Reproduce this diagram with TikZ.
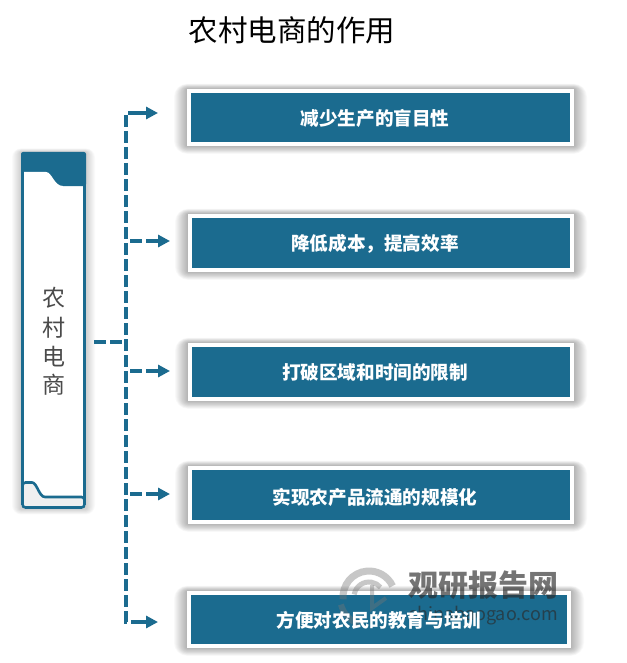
\documentclass[tikz,border=0pt]{standalone}
\usepackage{fontspec}
\setmainfont{Noto Sans CJK SC}
\usetikzlibrary{arrows.meta}
\definecolor{teal1}{HTML}{1B6B8F}
\definecolor{ink}{HTML}{4A4A4A}
\definecolor{wm}{HTML}{2A2A2A}
\tikzset{
  x=1pt,y=-1pt,
  itembox/.style={draw=white,line width=4pt,fill=teal1,inner sep=0pt},
  itemlabel/.style={text=white,font=\fontsize{18.6pt}{20pt}\selectfont\bfseries},
  dashline/.style={draw=teal1,line width=3.4pt,dash pattern=on 12pt off 4pt},
  branch/.style={dashline,-{Triangle[length=12pt,width=12pt]}},
  sideletter/.style={text=ink,font=\fontsize{23pt}{24pt}\selectfont},
  logoarc/.style={draw=wm!65,line width=7pt},
}
% shadow: args x0,y0,x1,y1 (px), spread, opacity
\newcommand{\softshadow}[6]{%
  \foreach \s in {1,...,#5}{%
    \fill[black,opacity=#6,rounded corners=\s pt] (#1-\s,#2-0.4*\s) rectangle (#3+\s,#4+0.6*\s);
  }%
}
\begin{document}
\begin{tikzpicture}
\useasboundingbox (0,0) rectangle (626,663);
\fill[white] (0,0) rectangle (626,663);

\node[font=\fontsize{29.5pt}{32pt}\selectfont,text=black,anchor=center] (title) at (292,30) {农村电商的作用};

% shadows
\softshadow{21}{152}{86}{509}{9}{0.018}
\softshadow{187}{89}{574}{146}{13}{0.025}
\softshadow{188}{214}{574}{272}{13}{0.025}
\softshadow{188}{343}{574}{401}{13}{0.025}
\softshadow{188}{466}{574}{524}{13}{0.025}
\softshadow{187}{591}{571}{648}{13}{0.025}

% scroll
\node[minimum width=65pt,minimum height=357pt,inner sep=0pt] (scroll) at (53.5,330.5) {};
\fill[white] (21,155) rectangle (86,506);
\fill[rounded corners=2pt,teal1] (21,186) -- (21,152) -- (86,152) -- (86,186) -- cycle;
\fill[white] (24,172) -- (46,172) .. controls (52,172) and (54,186) .. (63,186) -- (24,186) -- cycle;
\fill[white] (24,186) rectangle (63,190);
\fill[teal1] (21,175) rectangle (24,500);
\fill[teal1] (82.5,180) rectangle (85.5,500);
\filldraw[draw=teal1,fill=black!6,line width=2.6pt,rounded corners=3pt]
  (22.5,482.5) -- (29,482.5) .. controls (37,482.5) and (39,497) .. (48,497) -- (84.5,497)
  -- (84.5,507.5) -- (22.5,507.5) -- cycle;
\node[sideletter] (c1) at (54,298) {农};
\node[sideletter] (c2) at (54,328) {村};
\node[sideletter] (c3) at (54,357) {电};
\node[sideletter] (c4) at (54,385) {商};

% boxes
\node[itembox,minimum width=383pt,minimum height=53pt] (b1) at (380.5,117.5) {};
\node[itembox,minimum width=382pt,minimum height=54pt] (b2) at (381,243) {};
\node[itembox,minimum width=382pt,minimum height=54pt] (b3) at (381,372) {};
\node[itembox,minimum width=382pt,minimum height=54pt] (b4) at (381,495) {};
\node[itembox,minimum width=380pt,minimum height=53pt] (b5) at (379,619.5) {};

% connectors
\coordinate (j) at (126,342);
\coordinate (t1) at (126,113);
\coordinate (t2) at (126,241);
\coordinate (t3) at (126,371);
\coordinate (t4) at (126,494);
\coordinate (t5) at (126,622);
\coordinate (a1) at (158,113);
\coordinate (a2) at (170,241);
\coordinate (a3) at (170,371);
\coordinate (a4) at (170,494);
\coordinate (a5) at (158,622);
\draw[dashline,shorten <=8pt] (scroll.east |- j) -- (j);
\draw[dashline] (a1) ++(-18,0) -- (t1) -- (t5) -- ++(18,0);
\draw[branch] (t1) ++(14,0) -- (a1);
\draw[branch] (t2) ++(4,0) -- (a2);
\draw[branch] (t3) ++(4,0) -- (a3);
\draw[branch] (t4) ++(4,0) -- (a4);
\draw[branch] (t5) ++(14,0) -- (a5);

% watermark
\begin{scope}[opacity=0.65]
  \node[font=\fontsize{30pt}{32pt}\selectfont\bfseries,text=wm] (wm1) at (483,585) {观研报告网};
  \node[font=\fontsize{18pt}{20pt}\selectfont,text=wm] (wm2) at (483,616) {chinabaogao.com};
\end{scope}
\begin{scope}[opacity=0.4]
  \draw[logoarc] ([shift={(-185:26)}]369,597) arc[start angle=-185,end angle=-25,radius=26];
  \draw[logoarc,line width=5pt] ([shift={(-170:15)}]369,597) arc[start angle=-170,end angle=-40,radius=15];
  \draw[logoarc,line width=6pt] ([shift={(165:29)}]369,597) arc[start angle=165,end angle=110,radius=29];
  \draw[logoarc,line width=4pt] (372,585) -- (372,608) -- (386,598);
\end{scope}

% box labels
\node[itemlabel] (l1) at (375,118) {减少生产的盲目性};
\node[itemlabel] (l2) at (375,244) {降低成本，提高效率};
\node[itemlabel] (l3) at (375,372) {打破区域和时间的限制};
\node[itemlabel] (l4) at (375,497) {实现农产品流通的规模化};
\node[itemlabel] (l5) at (379,620) {方便对农民的教育与培训};
\end{tikzpicture}
\end{document}
